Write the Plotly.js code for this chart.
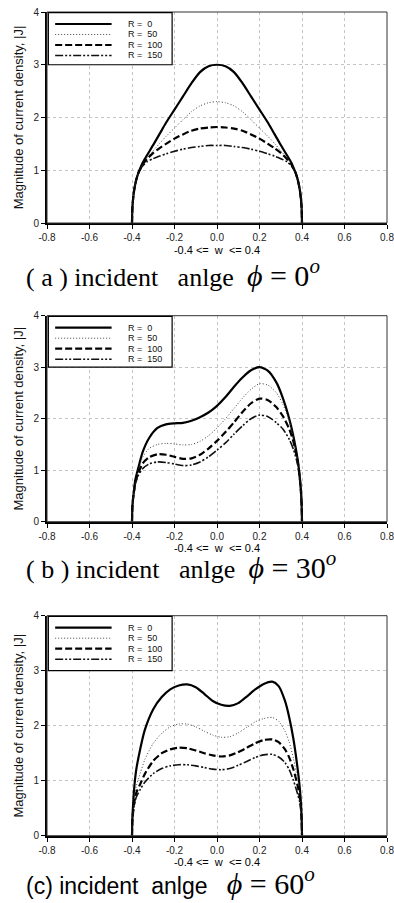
<!DOCTYPE html>
<html><head><meta charset="utf-8">
<script src="https://cdn.plot.ly/plotly-3.0.1.min.js"></script>
<style>body{margin:0;background:#fff}#chart{width:394px;height:903px}</style>
</head><body><div id="chart"></div>
<script>
// ---------- data ----------
const seriesNames = ["R =  0", "R =  50", "R =  100", "R =  150"];
const xTickVals = [-0.8, -0.6, -0.4, -0.2, 0, 0.2, 0.4, 0.6, 0.8];
const xTickText = ["-0.8", "-0.6", "-0.4", "-0.2", "0.0", "0.2", "0.4", "0.6", "0.8"];
const yTickVals = [0, 1, 2, 3, 4];
const captionLetters = ["a", "b", "c"];
const angles = ["0", "30", "60"];

// (a) phi = 0
const w_a = [-0.4,-0.398,-0.395,-0.39,-0.38,-0.37,-0.36,-0.35,-0.33,-0.3,-0.27,-0.24,-0.2,-0.16,-0.12,-0.08,-0.04,0,
             0.04,0.08,0.12,0.16,0.2,0.24,0.27,0.3,0.33,0.35,0.36,0.37,0.38,0.39,0.395,0.398,0.4];
const a_R0   = [0,0.3,0.45,0.62,0.82,0.95,1.05,1.14,1.28,1.48,1.69,1.9,2.15,2.4,2.65,2.86,2.97,3.0,
                2.97,2.86,2.65,2.4,2.15,1.9,1.69,1.48,1.28,1.14,1.05,0.95,0.82,0.62,0.45,0.3,0];
const a_R50  = [0,0.3,0.45,0.62,0.82,0.95,1.04,1.12,1.23,1.37,1.51,1.64,1.8,1.96,2.11,2.22,2.28,2.3,
                2.28,2.22,2.11,1.96,1.8,1.64,1.51,1.37,1.23,1.12,1.04,0.95,0.82,0.62,0.45,0.3,0];
const a_R100 = [0,0.3,0.45,0.62,0.82,0.95,1.03,1.11,1.21,1.33,1.42,1.5,1.6,1.68,1.75,1.79,1.81,1.82,
                1.81,1.79,1.75,1.68,1.6,1.5,1.42,1.33,1.21,1.11,1.03,0.95,0.82,0.62,0.45,0.3,0];
const a_R150 = [0,0.3,0.45,0.62,0.81,0.94,1.02,1.08,1.16,1.22,1.27,1.31,1.36,1.4,1.43,1.45,1.47,1.47,
                1.47,1.45,1.43,1.4,1.36,1.31,1.27,1.22,1.16,1.08,1.02,0.94,0.81,0.62,0.45,0.3,0];

// (b) phi = 30
const w_b = [-0.4,-0.398,-0.395,-0.39,-0.385,-0.37,-0.35,-0.32,-0.28,-0.24,-0.2,-0.16,-0.12,-0.08,-0.04,0,
             0.04,0.08,0.12,0.16,0.2,0.24,0.28,0.31,0.34,0.36,0.38,0.39,0.395,0.398,0.4];
const b_R0   = [0,0.3,0.45,0.62,0.8,1.05,1.35,1.62,1.82,1.89,1.91,1.92,1.96,2.03,2.12,2.25,
                2.42,2.62,2.8,2.94,3.0,2.93,2.7,2.4,2.0,1.65,1.2,0.85,0.6,0.35,0];
const b_R50  = [0,0.3,0.45,0.62,0.78,1.0,1.25,1.42,1.5,1.52,1.51,1.49,1.5,1.56,1.67,1.82,
                2.0,2.2,2.4,2.57,2.68,2.65,2.5,2.28,1.95,1.62,1.2,0.85,0.6,0.35,0];
const b_R100 = [0,0.3,0.45,0.6,0.75,0.95,1.13,1.25,1.31,1.3,1.26,1.22,1.23,1.3,1.42,1.57,
                1.74,1.93,2.13,2.3,2.39,2.36,2.22,2.05,1.8,1.55,1.15,0.82,0.58,0.34,0];
const b_R150 = [0,0.3,0.45,0.58,0.72,0.9,1.03,1.12,1.16,1.15,1.12,1.09,1.1,1.16,1.26,1.39,
                1.53,1.7,1.86,2.0,2.07,2.04,1.92,1.8,1.6,1.4,1.1,0.8,0.57,0.33,0];

// (c) phi = 60
const w_c = [-0.4,-0.398,-0.395,-0.39,-0.38,-0.36,-0.34,-0.3,-0.26,-0.22,-0.18,-0.14,-0.1,-0.06,-0.02,
             0.02,0.06,0.1,0.14,0.18,0.22,0.26,0.29,0.32,0.34,0.36,0.38,0.39,0.395,0.398,0.4];
const c_R0   = [0,0.35,0.55,0.85,1.2,1.6,1.92,2.3,2.52,2.66,2.73,2.75,2.7,2.58,2.45,
                2.38,2.36,2.41,2.53,2.66,2.76,2.8,2.72,2.45,2.15,1.75,1.2,0.85,0.6,0.35,0];
const c_R50  = [0,0.3,0.45,0.65,0.9,1.15,1.38,1.68,1.86,1.98,2.03,2.03,1.98,1.9,1.83,
                1.79,1.8,1.87,1.97,2.07,2.13,2.15,2.08,1.9,1.7,1.4,1.0,0.75,0.55,0.33,0];
const c_R100 = [0,0.28,0.42,0.58,0.78,0.95,1.12,1.36,1.5,1.57,1.6,1.59,1.55,1.5,1.46,
                1.44,1.46,1.52,1.6,1.68,1.74,1.75,1.7,1.57,1.42,1.2,0.9,0.68,0.5,0.3,0];
const c_R150 = [0,0.26,0.4,0.54,0.7,0.85,0.97,1.13,1.22,1.27,1.29,1.29,1.27,1.24,1.21,
                1.2,1.22,1.28,1.35,1.42,1.47,1.48,1.43,1.33,1.2,1.0,0.75,0.6,0.45,0.28,0];

// ---------- styling ----------
const lineStyles = [
  {color:'#000', width:2.2, dash:'solid'},
  {color:'#444', width:1, dash:'1px,2px'},
  {color:'#000', width:2.2, dash:'7px,3px'},
  {color:'#111', width:1.6, dash:'8px,2px,2px,2px,2px,2px'}
];
const panels = [
  {x:w_a, ys:[a_R0,a_R50,a_R100,a_R150], pxTop:12,    pxBot:223,   capY:273, serif:true},
  {x:w_b, ys:[b_R0,b_R50,b_R100,b_R150], pxTop:315.7, pxBot:521.7, capY:565, serif:true},
  {x:w_c, ys:[c_R0,c_R50,c_R100,c_R150], pxTop:615.7, pxBot:835.7, capY:881, serif:false}
];
const H = 903, W = 394;
const SANS = 'Liberation Sans, Arial, sans-serif';
const SERIF = 'Liberation Serif, Times New Roman, serif';
const legendRowsPx = [12, 22.5, 33, 43.5];

const traces = [];
const layout = {
  width:W, height:H, margin:{l:0,r:0,t:0,b:0},
  paper_bgcolor:'#fff', plot_bgcolor:'#fff', showlegend:false,
  font:{family:SANS, color:'#111'},
  shapes:[], annotations:[]
};

panels.forEach((p, i) => {
  const n = i === 0 ? '' : String(i+1);
  const hPx = p.pxBot - p.pxTop;
  p.ys.forEach((y, k) => {
    traces.push({
      type:'scatter', mode:'lines', x:p.x, y:y, name:seriesNames[k],
      xaxis:'x'+n, yaxis:'y'+n,
      line:Object.assign({shape:'spline', smoothing:0.7}, lineStyles[k]),
      hoverinfo:'skip'
    });
  });
  layout['xaxis'+n] = {
    domain:[47/W, 387/W], anchor:'y'+n, range:[-0.8,0.8],
    tickvals:xTickVals, ticktext:xTickText, ticks:'outside', ticklen:4, tickcolor:'#000',
    ticklabeloverflow:'allow',
    showline:true, linecolor:'#000', linewidth:2,
    showgrid:true, gridcolor:'#c4c4c4', griddash:'dot', gridwidth:1, zeroline:false,
    tickfont:{size:10, family:SANS, color:'#222'},
    title:{text:'-0.4 &lt;=  w  &lt;= 0.4', font:{size:11, family:SANS, color:'#000'}, standoff:4}
  };
  layout['yaxis'+n] = {
    domain:[1 - p.pxBot/H, 1 - p.pxTop/H], anchor:'x'+n, range:[0,4],
    tickvals:yTickVals, ticks:'outside', ticklen:4, tickcolor:'#000',
    ticklabeloverflow:'allow',
    showline:true, linecolor:'#000', linewidth:2,
    showgrid:true, gridcolor:'#c4c4c4', griddash:'dot', gridwidth:1, zeroline:false,
    tickfont:{size:10, family:SANS, color:'#222'},
    title:{text:'Magnitude of current density, |J|', font:{size:13, family:SANS, color:'#111'}, standoff:7}
  };
  // plot frame
  layout.shapes.push({type:'rect', xref:'x'+n+' domain', yref:'y'+n+' domain', x0:0, x1:1, y0:0, y1:1,
    line:{color:'#333', width:1}});
  // legend box
  layout.shapes.push({type:'rect', xref:'x'+n+' domain', yref:'y'+n+' domain', x0:0.004, x1:0.368, y0:0.75, y1:0.997,
    line:{color:'#000', width:1.2}, fillcolor:'#fff'});
  legendRowsPx.forEach((rp, k) => {
    const ry = 1 - rp / hPx;
    layout.shapes.push({type:'line', xref:'x'+n+' domain', yref:'y'+n+' domain', x0:0.024, x1:0.19, y0:ry, y1:ry,
      line:{color:lineStyles[k].color, width:lineStyles[k].width, dash:lineStyles[k].dash}});
    layout.annotations.push({xref:'x'+n+' domain', yref:'y'+n+' domain', x:0.235, y:ry, xanchor:'left', yanchor:'middle',
      borderpad:0, text:seriesNames[k].replace('  ', ' &nbsp;'), showarrow:false, font:{size:9, family:SANS, color:'#111'}});
  });
  // caption
  const L = captionLetters[i];
  const head = p.serif
    ? ('<span style="font-family:Liberation Serif, Times New Roman, serif">(&nbsp;' + L + '&nbsp;) incident&nbsp;&nbsp; anlge&nbsp;&nbsp;</span>')
    : ('(' + L + ')&nbsp;incident&nbsp; anlge&nbsp;&nbsp; ');
  const math = '<span style="font-family:Liberation Serif, serif;font-size:30px"><i>ϕ</i> = '
             + angles[i] + '<sup><i>o</i></sup></span>';
  layout.annotations.push({xref:'paper', yref:'paper', x:25/W, y:1 - p.capY/H, xanchor:'left', yanchor:'middle',
    showarrow:false, borderpad:0, font:{size:p.serif ? 26 : 23, family:p.serif ? SERIF : SANS, color:'#000'},
    text: head + math});
});

Plotly.newPlot('chart', traces, layout, {staticPlot:true, displayModeBar:false});
</script>
</body></html>
